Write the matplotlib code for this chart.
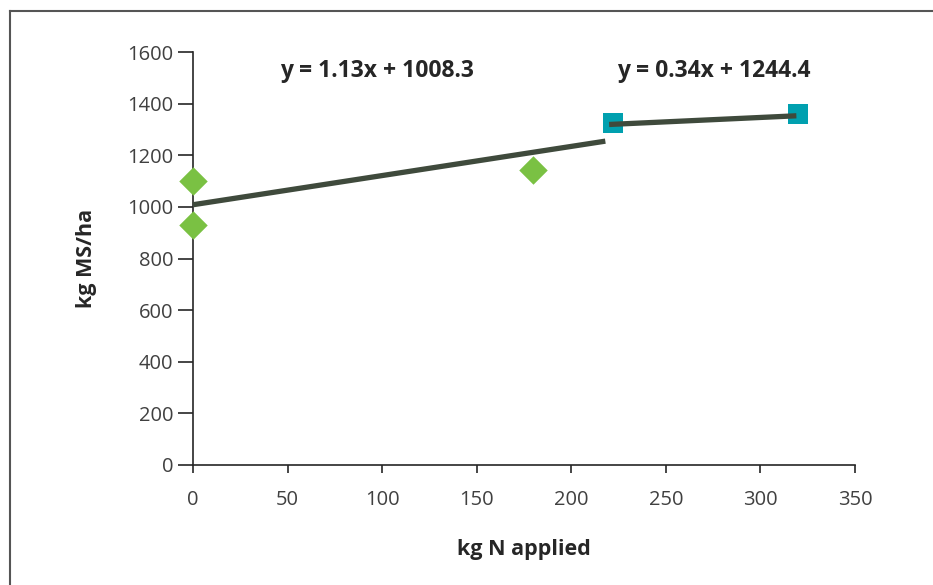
import matplotlib
matplotlib.use("Agg")
import matplotlib.pyplot as plt
from matplotlib.lines import Line2D
import numpy as np

plt.rcParams['font.family'] = ['Open Sans', 'DejaVu Sans']

# Data
green_x = [0, 0, 180]
green_y = [1100, 930, 1143]
teal_x = [222, 320]
teal_y = [1324, 1359]

# Trendlines (slope, intercept, x extent)
trend_slopes = [1.13, 0.34]
trend_intercepts = [1008.3, 1244.4]
trend_x = [[0, 218], [220, 319]]
trend_labels = ["y = 1.13x + 1008.3", "y = 0.34x + 1244.4"]

x_ticks = [0, 50, 100, 150, 200, 250, 300, 350]
y_ticks = [0, 200, 400, 600, 800, 1000, 1200, 1400, 1600]

W, H = 933, 585
fig = plt.figure(figsize=(W / 100, H / 100), dpi=100)
ax = fig.add_axes([193 / W, 1 - 465 / H, (855 - 193) / W, (465 - 52) / H])

line_color = '#3F4A3C'
for s, b, xs in zip(trend_slopes, trend_intercepts, trend_x):
    xs = np.array(xs, dtype=float)
    ax.plot(xs, s * xs + b, color=line_color, lw=3.8, solid_capstyle='butt', zorder=3, clip_on=False)

ax.scatter(green_x, green_y, marker='D', s=210, color='#7AC143', zorder=4, clip_on=False, linewidths=0)
ax.scatter(teal_x, teal_y, marker='s', s=190, color='#00A0AF', zorder=2, clip_on=False, linewidths=0)

ax.set_xlim(0, 350)
ax.set_ylim(0, 1600)
ax.set_xticks(x_ticks)
ax.set_yticks(y_ticks)
for sp in ['top', 'right']:
    ax.spines[sp].set_visible(False)
for sp in ['left', 'bottom']:
    ax.spines[sp].set_color('#262626')
    ax.spines[sp].set_linewidth(1.2)
ax.tick_params(axis='y', direction='out', length=11, width=1.2, color='#262626',
               labelsize=14.5, labelcolor='#404040', pad=3)
ax.tick_params(axis='x', direction='out', length=6, width=1.2, color='#262626',
               labelsize=14.5, labelcolor='#404040', pad=12)

ax.set_xlabel('kg N applied', fontsize=15.5, fontweight='bold', color='#262626', labelpad=21)
ax.set_ylabel('kg MS/ha', fontsize=15.5, fontweight='bold', color='#262626', labelpad=22)

# Equation labels
fig.text(377 / W, 1 - 71 / H, trend_labels[0], fontsize=16.5, fontweight='bold',
         color='#262626', ha='center', va='center')
fig.text(714 / W, 1 - 71 / H, trend_labels[1], fontsize=16.5, fontweight='bold',
         color='#262626', ha='center', va='center')

# Frame around figure (top and left edges visible)
fig.add_artist(Line2D([10 / W, 1.0], [1 - 10.5 / H, 1 - 10.5 / H], transform=fig.transFigure,
                      color='#555555', lw=1.5))
fig.add_artist(Line2D([10 / W, 10 / W], [0, 1 - 10.5 / H], transform=fig.transFigure,
                      color='#555555', lw=1.5))

fig.savefig('out.png', dpi=100)
